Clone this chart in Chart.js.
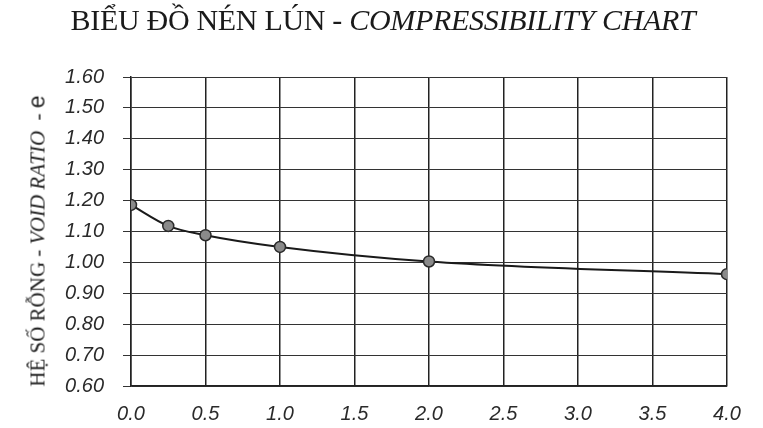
<!DOCTYPE html>
<html><head><meta charset="utf-8">
<script src="https://cdn.jsdelivr.net/npm/chart.js@4"></script>
<style>
html,body{margin:0;padding:0;background:#fff;}
#wrap{position:relative;width:763px;height:428px;overflow:hidden;background:#fff;}
canvas{position:absolute;left:0;top:0;}
#title{position:absolute;left:0;top:3px;width:766px;text-align:center;font-family:"Liberation Serif",serif;font-size:30px;color:#1a1a1a;white-space:nowrap;letter-spacing:-0.3px;}
#ylab{position:absolute;left:37px;top:241px;transform:translate(-50%,-50%) rotate(-90deg);font-family:"Liberation Serif",serif;font-size:21px;white-space:nowrap;color:#222;}
#ylab .e{font-family:"Liberation Sans",sans-serif;font-size:23px;}
</style>
</head><body>
<div id="wrap">
<canvas id="c" width="763" height="428"></canvas>
<div id="title">BIỂU ĐỒ NÉN LÚN - <i>COMPRESSIBILITY CHART</i></div>
<div id="ylab">HỆ SỐ RỖNG - <i>VOID RATIO</i> &nbsp;- <span class="e">e</span></div>
</div>
<script>
// Data
const pressure = [0, 0.25, 0.5, 1.0, 2.0, 4.0];
const voidRatio = [1.186, 1.118, 1.088, 1.050, 1.003, 0.962];
const xTicks = [0.0, 0.5, 1.0, 1.5, 2.0, 2.5, 3.0, 3.5, 4.0];
const yTicks = [0.60, 0.70, 0.80, 0.90, 1.00, 1.10, 1.20, 1.30, 1.40, 1.50, 1.60];

const tickFont = {family: "'Liberation Sans', Arial, sans-serif", size: 20, style: 'italic'};

new Chart(document.getElementById('c'), {
  type: 'line',
  data: {
    datasets: [{
      data: pressure.map((x, i) => ({x: x, y: voidRatio[i]})),
      borderColor: '#1a1a1a',
      borderWidth: 2,
      cubicInterpolationMode: 'monotone',
      pointRadius: 5.5,
      pointBackgroundColor: '#8a8a8a',
      pointBorderColor: '#2a2a2a',
      pointBorderWidth: 1.5,
      fill: false
    }]
  },
  options: {
    responsive: false,
    devicePixelRatio: 1,
    animation: false,
    layout: {padding: {left: 0, right: 36, top: 77, bottom: 0}},
    plugins: {legend: {display: false}, title: {display: false}, tooltip: {enabled: false}},
    scales: {
      x: {
        type: 'linear', min: 0, max: 4,
        afterBuildTicks: s => { s.ticks = xTicks.map(v => ({value: v})); },
        afterFit: s => { s.height = 42; },
        grid: {color: '#222', lineWidth: 1.5, drawTicks: false},
        border: {color: '#222', width: 1.5},
        ticks: {font: tickFont, color: '#2a2a2a', padding: 16, maxRotation: 0,
          callback: v => Number(v).toFixed(1)}
      },
      y: {
        type: 'linear', min: 0.6, max: 1.6,
        afterBuildTicks: s => { s.ticks = yTicks.map(v => ({value: v})); },
        afterFit: s => { s.width = 131; },
        grid: {color: '#333', lineWidth: 1, tickLength: 8},
        border: {color: '#222', width: 1.5},
        ticks: {font: tickFont, color: '#2a2a2a', padding: 19,
          callback: v => Number(v).toFixed(2)}
      }
    }
  }
});
</script>
</body></html>
